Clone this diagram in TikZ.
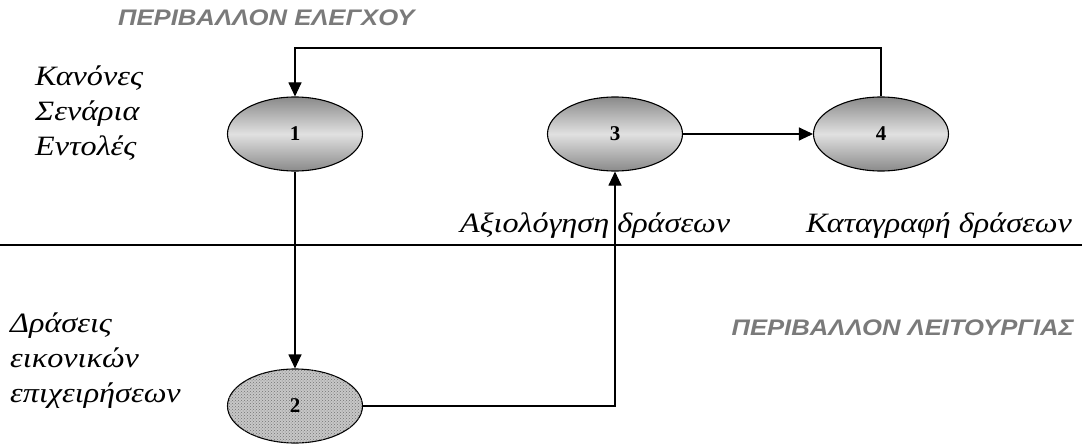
\documentclass[tikz,border=0pt]{standalone}
\usepackage{fontspec}
\setmainfont{Liberation Serif}
\newfontfamily\notefont[FakeStretch=1.15]{Liberation Serif}
\newfontfamily\headfont[FakeStretch=1.14]{Liberation Sans}
\usetikzlibrary{patterns,arrows.meta,shapes.geometric}
\pgfdeclareverticalshading{lensgrad}{100bp}{%
  color(0bp)=(black!62);
  color(22bp)=(black!50);
  color(50bp)=(black!12);
  color(78bp)=(black!50);
  color(100bp)=(black!62)}
\begin{document}
\begin{tikzpicture}[x=1pt,y=-1pt,
  lens/.style={ellipse,draw=black,line width=1.1pt,minimum width=135pt,minimum height=74pt,inner sep=0pt,
    font=\bfseries\fontsize{21}{21}\selectfont},
  shadedlens/.style={lens,shading=lensgrad},
  dottedlens/.style={lens,fill=black!22,postaction={pattern=crosshatch dots,pattern color=black!55}},
  flow/.style={line width=1.1pt,-{Triangle[length=14pt,width=13pt]}},
  head/.style={font=\headfont\bfseries\itshape\fontsize{22.5}{22.5}\selectfont,text=black!52,inner sep=0pt},
  note/.style={font=\notefont\itshape\fontsize{28}{35}\selectfont,anchor=west,inner sep=0pt,align=left}]
\useasboundingbox (0,0) rectangle (1082,444);
% the two environments and their border
\draw[line width=1.1pt] (0,245) coordinate (bl) -- (1082,245) coordinate (br);
\node[head,anchor=west] (ctl) at (118,18) {ΠΕΡΙΒΑΛΛΟΝ ΕΛΕΓΧΟΥ};
\node[head,anchor=east] (ops) at (1074,328) {ΠΕΡΙΒΑΛΛΟΝ ΛΕΙΤΟΥΡΓΙΑΣ};
% stages
\node[shadedlens] (n1) at (295,134) {1};
\node[shadedlens] (n3) at (615,134) {3};
\node[shadedlens] (n4) at (881,134) {4};
\node[dottedlens] (n2) at (295,406) {2};
% labels
\node[note] (rules) at (35,113) {Κανόνες\\Σενάρια\\Εντολές};
\node[note] (acts) at (10,361) {Δράσεις\\εικονικών\\επιχειρήσεων};
\node[note] (eval) at (460,226) {Αξιολόγηση δράσεων};
\node[note] (rec) at (806,226) {Καταγραφή δράσεων};
% connectors
\draw[flow] (n1) -- (n2);
\draw[flow] (n2.east) -| (n3.south);
\draw[flow] (n3) -- (n4);
\draw[flow] (n4.north) |- (295,48) -- (n1.north);
\end{tikzpicture}
\end{document}
